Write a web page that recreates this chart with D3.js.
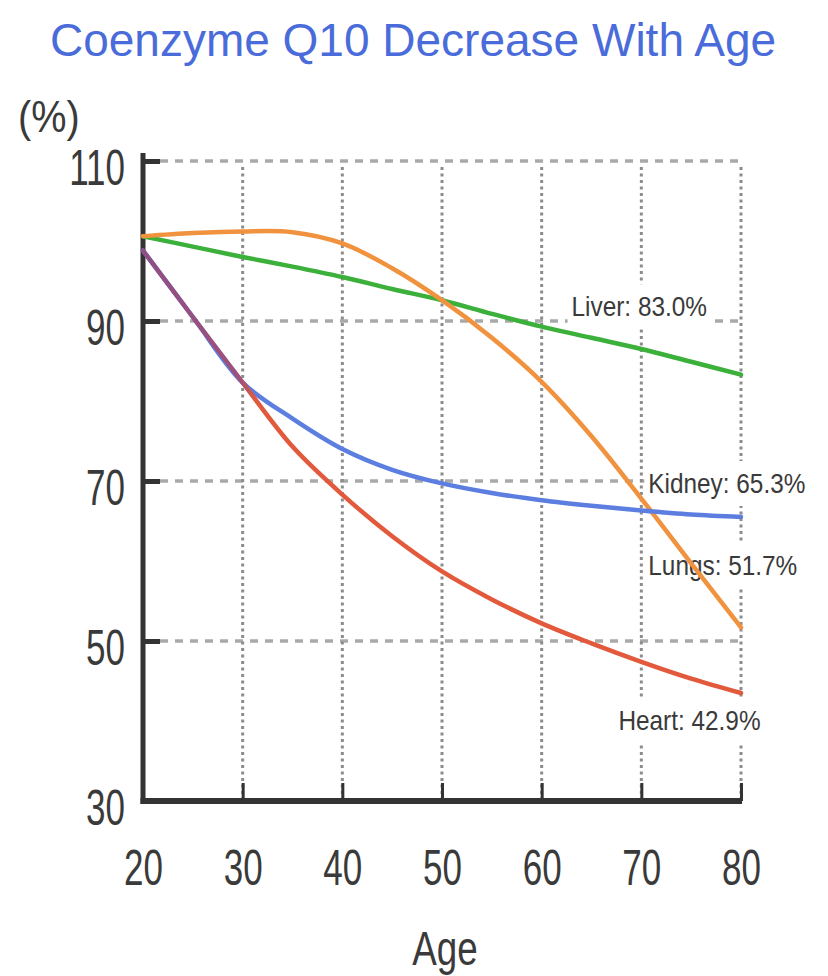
<!DOCTYPE html>
<html>
<head>
<meta charset="utf-8">
<script src="https://cdn.jsdelivr.net/npm/d3@7/dist/d3.min.js"></script>
<style>
  html, body { margin: 0; padding: 0; background: #fff; }
  svg { display: block; }
  text { font-family: "Liberation Sans", Arial, sans-serif; fill: #3a3a3a; }
</style>
</head>
<body>
<svg id="chart" width="828" height="976"></svg>
<script>
/* CoQ10 by age */
const ages   = [20, 25, 30, 35, 40, 45, 50, 55, 60, 65, 70, 75, 80];
const liver  = [100.6, 99.3, 98.0, 96.8, 95.5, 94.0, 92.6, 90.9, 89.3, 87.9, 86.5, 84.9, 83.3];
const lungs  = [100.6, 101.0, 101.2, 101.1, 99.7, 96.6, 92.6, 87.9, 82.4, 75.6, 67.8, 59.7, 51.7];
const kidney = [98.8, 90.5, 82.3, 77.8, 74.0, 71.4, 69.7, 68.5, 67.6, 66.9, 66.3, 65.8, 65.5];
const heart  = [98.8, 90.5, 82.3, 74.3, 68.3, 63.1, 58.7, 55.2, 52.2, 49.7, 47.4, 45.3, 43.5];

const xTicks = [20, 30, 40, 50, 60, 70, 80];
const yTicks = [30, 50, 70, 90, 110];
const organs = ["Liver", "Kidney", "Lungs", "Heart"];
const finalPct = [83.0, 65.3, 51.7, 42.9];

const TITLE = "Coenzyme Q10 Decrease With Age";

(function () {
  const svg = d3.select("#chart");
  const x = d3.scaleLinear().domain([20, 80]).range([143, 741]);
  const y = d3.scaleLinear().domain([30, 110]).range([801, 161]);

  // squash text horizontally (the source artwork is narrow)
  function squeeze(sel, k) {
    sel.each(function () {
      const w = this.getComputedTextLength();
      d3.select(this).attr("textLength", w * k).attr("lengthAdjust", "spacingAndGlyphs");
    });
  }

  svg.append("text").attr("x", 413).attr("y", 56)
    .attr("text-anchor", "middle").attr("font-size", 46)
    .style("fill", "#4a6cdb").text(TITLE);

  svg.append("text").attr("x", 18).attr("y", 132)
    .attr("font-size", 44).text("(%)").call(squeeze, 0.9);

  // grid
  const grid = svg.append("g");
  grid.selectAll("line.h").data(yTicks.filter(v => v > 30)).join("line")
    .attr("class", "h")
    .attr("x1", x(20) + 17).attr("x2", x(80))
    .attr("y1", d => y(d)).attr("y2", d => y(d))
    .attr("stroke", "#a9a9a9").attr("stroke-width", 3.5).attr("stroke-dasharray", "8,7");
  grid.selectAll("line.v").data(xTicks.filter(v => v > 20)).join("line")
    .attr("class", "v")
    .attr("x1", d => x(d)).attr("x2", d => x(d))
    .attr("y1", y(110) + 6).attr("y2", y(30))
    .attr("stroke", "#8c8c8c").attr("stroke-width", 3).attr("stroke-dasharray", "3,3.5");

  // label boxes sit over the grid, under the curves
  const LABEL_AT = [[63.0, 90.6], [70.7, 68.5], [70.7, 58.3], [67.7, 38.9]];
  const lab = svg.append("g");
  const labTexts = lab.selectAll("text").data(organs).join("text")
    .attr("x", (d, i) => x(LABEL_AT[i][0]))
    .attr("y", (d, i) => y(LABEL_AT[i][1]))
    .attr("font-size", 28)
    .text((d, i) => `${d}: ${finalPct[i].toFixed(1)}%`)
    .call(squeeze, 0.87);
  labTexts.each(function () {
    const b = this.getBBox();
    lab.insert("rect", "text")
      .attr("x", b.x - 4).attr("y", b.y - 7)
      .attr("width", b.width + 8).attr("height", b.height + 14)
      .attr("fill", "#fff");
  });

  // axes
  const yAxis = svg.append("g").attr("transform", `translate(${x(20)},0)`)
    .call(d3.axisLeft(y).tickValues(yTicks).tickSizeInner(-17).tickSizeOuter(0));
  yAxis.select(".domain").attr("stroke", "#333").attr("stroke-width", 5)
    .attr("d", `M0,${y(110) - 8}V${y(30) + 3}`);
  yAxis.selectAll(".tick line").attr("stroke", "#333").attr("stroke-width", 5);
  yAxis.selectAll(".tick text").attr("x", -18).attr("dy", 23)
    .attr("font-size", 50).style("fill", "#3a3a3a").attr("font-family", null)
    .call(squeeze, 0.7);

  const xAxis = svg.append("g").attr("transform", `translate(0,${y(30)})`)
    .call(d3.axisBottom(x).tickValues(xTicks).tickSizeInner(-18).tickSizeOuter(0));
  xAxis.select(".domain").attr("stroke", "#333").attr("stroke-width", 6)
    .attr("d", `M${x(20) - 2.5},0H${x(80) + 1}`);
  xAxis.selectAll(".tick line").attr("stroke", "#333").attr("stroke-width", 3);
  xAxis.selectAll(".tick text").attr("y", 84).attr("dy", 0)
    .attr("font-size", 50).style("fill", "#3a3a3a").attr("font-family", null)
    .call(squeeze, 0.7);

  svg.append("text").attr("x", 445).attr("y", 965)
    .attr("text-anchor", "middle").attr("font-size", 49).text("Age").call(squeeze, 0.75);

  // heart shares the kidney path until 30 -> purple blend there
  const t30 = (x(30) - x(20)) / (x(80) - x(20));
  const grad = svg.append("defs").append("linearGradient").attr("id", "heartGrad")
    .attr("gradientUnits", "userSpaceOnUse")
    .attr("x1", x(20)).attr("x2", x(80)).attr("y1", 0).attr("y2", 0);
  grad.append("stop").attr("offset", 0).attr("stop-color", "#8e4f86");
  grad.append("stop").attr("offset", t30 - 0.005).attr("stop-color", "#a0507a");
  grad.append("stop").attr("offset", t30 + 0.02).attr("stop-color", "#e2593c");
  grad.append("stop").attr("offset", 1).attr("stop-color", "#e2593c");

  const line = d3.line().x((d, i) => x(ages[i])).y(d => y(d)).curve(d3.curveCatmullRom.alpha(0.5));
  const series = [
    { v: liver,  c: "#3bb03a" },
    { v: lungs,  c: "#f0923e" },
    { v: kidney, c: "#5b7ee0" },
    { v: heart,  c: "url(#heartGrad)" }
  ];
  svg.append("g").selectAll("path").data(series).join("path")
    .attr("d", d => line(d.v))
    .attr("fill", "none").attr("stroke", d => d.c)
    .attr("stroke-width", 4.5).attr("stroke-linecap", "round");
})();
</script>
</body>
</html>
